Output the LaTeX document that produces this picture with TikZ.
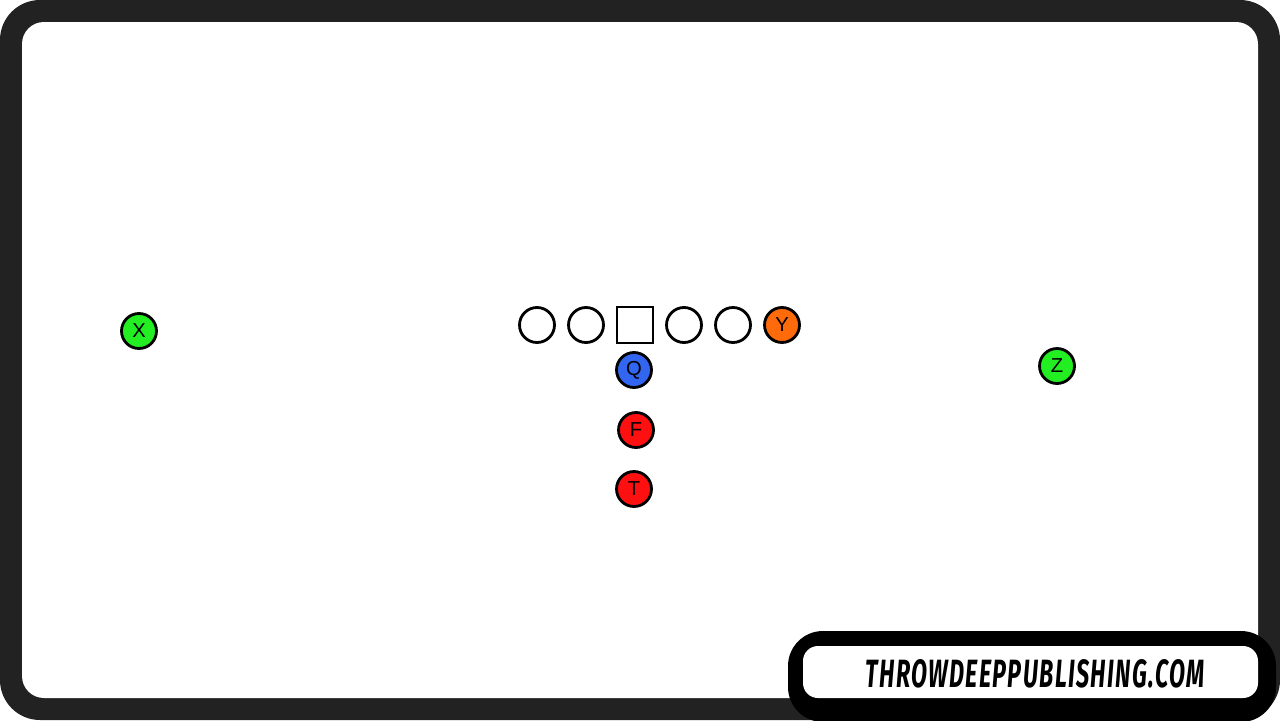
\documentclass[tikz,border=0pt]{standalone}
\usepackage{fontspec}
\setmainfont{Liberation Sans}
\newfontfamily\logofont[LetterSpace=6]{Fira Sans}
\usepackage{tikz}
\usetikzlibrary{positioning}
\definecolor{framegray}{HTML}{222222}
\definecolor{wrgreen}{HTML}{22EE22}
\definecolor{teorange}{HTML}{FF6A0A}
\definecolor{qbblue}{HTML}{3366F0}
\definecolor{rbred}{HTML}{FF1010}

\begin{document}
\begin{tikzpicture}[x=0.02cm,y=-0.02cm,
  player/.style={circle,draw=black,line width=1.6pt,minimum size=0.70cm,
    inner sep=0pt,font=\fontsize{11.5}{11.5}\selectfont},
  snapper/.style={rectangle,draw=black,line width=1.6pt,minimum size=0.72cm,
    inner sep=0pt}]
  % Configurable parameters
  \def\los{325}
  \def\gap{49}
  %
  % Frame
  \useasboundingbox (0,0) rectangle (1280,720);
  \fill[framegray,rounded corners=0.8cm] (0,0) rectangle (1280,720);
  \fill[white,rounded corners=0.44cm] (22,22) rectangle (1258,698);
  %
  % Offensive line
  \node[snapper] (C) at (635,\los) {};
  \node[player] (LG) at (635-\gap,\los) {};
  \node[player] (LT) at (635-2*\gap,\los) {};
  \node[player] (RG) at (635+\gap,\los) {};
  \node[player] (RT) at (635+2*\gap,\los) {};
  \node[player,fill=teorange] (Y) at (782,\los) {Y};
  %
  % Backfield
  \node[player,fill=qbblue] (Q) at (634,370) {Q};
  \node[player,fill=rbred] (F) at (636,430) {F};
  \node[player,fill=rbred] (T) at (634,489) {T};
  %
  % Receivers
  \node[player,fill=wrgreen] (X) at (139,331) {X};
  \node[player,fill=wrgreen] (Z) at (1057,366) {Z};
  %
  % Logo
  \fill[black,rounded corners=0.7cm] (788,631) rectangle (1276,722);
  \fill[white,rounded corners=0.3cm] (803,646) rectangle (1258,698);
  \node[inner sep=0pt] (logo) at (1035,674)
    {\resizebox{6.78cm}{0.56cm}{\logofont\bfseries\itshape THROWDEEPPUBLISHING.COM}};
  %
\end{tikzpicture}
\end{document}
